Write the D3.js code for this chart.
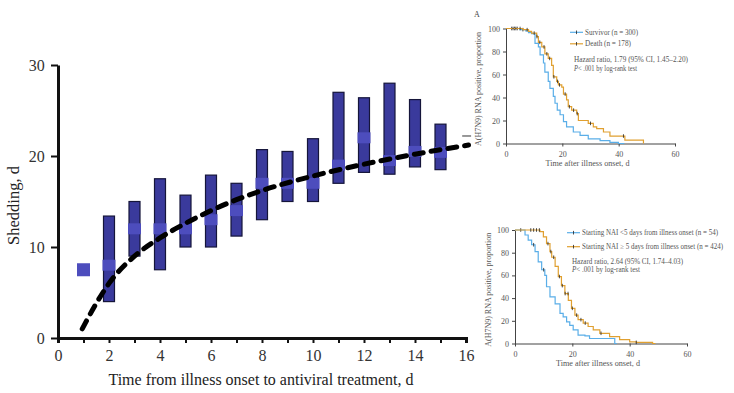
<!DOCTYPE html>
<html>
<head>
<meta charset="utf-8">
<script src="https://cdn.jsdelivr.net/npm/d3@7/dist/d3.min.js"></script>
<style>
  html, body { margin: 0; padding: 0; background: #fff; }
  svg { display: block; font-family: "Liberation Serif", "DejaVu Serif", serif; }
</style>
</head>
<body>
<svg id="chart" width="734" height="393"></svg>
<script>
// main panel: shedding duration by day of antiviral start
const days = [1, 2, 3, 4, 5, 6, 7, 8, 9, 10, 11, 12, 13, 14, 15];
const medians = [7.5, 8, 12, 12, 12, 13, 14, 17, 17, 17, 19, 22, 19.5, 20.5, 20.4];
const lows = [null, 4, 9, 7.5, 10, 10, 11.2, 13, 15, 15, 17, 18.2, 18, 18.8, 18.5];
const highs = [null, 13.4, 15, 17.5, 15.7, 17.9, 17, 20.7, 20.5, 21.9, 27, 26.4, 28, 26.2, 23.5];
const fitCurve = [[0.95, 1.0], [1.5, 3.8], [2, 6.0], [3, 9.0], [4, 11.0], [5, 12.6], [6, 14.0],
  [7, 15.2], [8, 16.2], [10, 17.8], [12, 19.1], [14, 20.2], [16.1, 21.2]];
const xTicksMain = [0, 2, 4, 6, 8, 10, 12, 14, 16];
const yTicksMain = [0, 10, 20, 30];

// inset A: survivors vs deaths
const survivorKM = [[0, 100], [5, 99], [7, 98], [8, 96.5], [9.1, 95.6], [10.3, 87], [11.5, 84], [12.1, 77],
  [13.3, 70], [13.8, 62], [15, 54], [15.6, 48], [16.8, 41], [17.4, 35], [18.2, 29], [19.2, 25], [20.4, 19],
  [21.5, 14.5], [23.9, 10], [26.3, 7], [29.2, 4], [33.4, 2.5], [36.9, 1], [39.9, 0], [42, 0]];
const deathKM = [[0, 100], [6, 99], [8, 97.5], [9.1, 96], [10.9, 93], [11.5, 88], [12.7, 84], [13.8, 78],
  [15, 74], [16.2, 68], [16.8, 58], [18, 54], [18.6, 51], [19.8, 49], [20.4, 43], [21.5, 38], [22.1, 32],
  [23.3, 29], [25.1, 26], [25.7, 20], [29.2, 17.5], [31, 14.5], [32.2, 13], [34.6, 10], [36.9, 6.5],
  [42.2, 3], [48.8, 0]];
const survivorCensor = [2, 3, 4, 6];
const deathCensor = [2.5, 3.5, 5, 7.5, 10, 11, 12, 13.5, 14.5, 15.5, 17, 18.3, 19, 21, 22.5, 24, 25.3, 30, 41.7];

// inset B: early vs late NAI start
const earlyKM = [[0, 100], [1.7, 100], [3.5, 95.6], [4.6, 91], [5.8, 87], [7, 81], [8.1, 72], [9.3, 65],
  [10.4, 60], [11, 50], [12.2, 41], [14, 35], [15.7, 26.5], [16.8, 23.5], [18, 19], [19.1, 16], [20.3, 12],
  [22, 7.4], [24.4, 6.8], [26, 4.4], [34.8, 0], [35.5, 0]];
const lateKM = [[0, 100], [4.6, 100], [8.7, 98.5], [9.9, 94], [11, 88], [12.2, 81], [12.8, 76], [14, 68],
  [15.1, 59], [16.2, 51], [17.4, 44], [18.6, 38], [19.7, 31], [20.9, 25], [22, 21], [23.8, 18], [25.5, 15],
  [27.3, 12], [29.6, 9], [33, 6], [36.5, 3.5], [40, 1.5], [42.3, 1], [48, 0], [49, 0]];
const earlyCensor = [2, 6.5, 10];
const lateCensor = [5.5, 6.5, 7.5, 8.5, 11.5, 12.5, 13.5, 15.5, 16.5, 17.5, 18.5, 20, 21.5, 23, 24.5, 30, 42.3];

const kmTicksX = [0, 20, 40, 60];
const kmTicksY = [0, 20, 40, 60, 80, 100];

const svg = d3.select("#chart");

// ---------- main panel ----------
const x = d3.scaleLinear().domain([0, 16]).range([58, 466]);
const y = d3.scaleLinear().domain([0, 30]).range([338, 65]);

const gx = svg.append("g").attr("transform", `translate(0,${y(0)})`)
  .call(d3.axisBottom(x).tickValues(d3.range(0, 17)).tickSize(5).tickFormat(d => xTicksMain.includes(d) ? d : ""));
const gy = svg.append("g").attr("transform", `translate(${x(0)},0)`)
  .call(d3.axisLeft(y).tickValues(yTicksMain).tickSize(7).tickSizeOuter(0));

[gx, gy].forEach(g => {
  g.select(".domain").attr("stroke", "#111").attr("stroke-width", 3);
  g.selectAll(".tick line").attr("stroke", "#111").attr("stroke-width", 2);
  g.selectAll("text").attr("fill", "#333").style("font-size", "16px").style("font-family", "Liberation Serif, serif");
});
gx.selectAll("text").attr("dy", "0.95em");
gy.selectAll("text").attr("dx", "-0.2em");

svg.append("text").attr("x", 261).attr("y", 385).attr("text-anchor", "middle")
  .attr("fill", "#222").style("font-size", "16px")
  .text("Time from illness onset to antiviral treatment, d");
svg.append("text").attr("transform", `translate(19,${(y(0) + y(30)) / 2 + 4}) rotate(-90)`)
  .attr("text-anchor", "middle").attr("fill", "#222").style("font-size", "16.5px")
  .text("Shedding, d");

const rows = days.map((d, i) => ({ day: d, med: medians[i], lo: lows[i], hi: highs[i] }));

// range bars
svg.append("g").selectAll("rect")
  .data(rows.filter(r => r.lo != null))
  .join("rect")
  .attr("x", r => x(r.day) - 5.5)
  .attr("width", 11)
  .attr("y", r => y(r.hi))
  .attr("height", r => y(r.lo) - y(r.hi))
  .attr("fill", "#3a3a9c")
  .attr("stroke", "#15153a")
  .attr("stroke-width", 1.2);

// median markers
svg.append("g").selectAll("rect")
  .data(rows)
  .join("rect")
  .attr("x", r => x(r.day) - 6.5)
  .attr("width", 13)
  .attr("y", r => y(r.med) - (r.lo == null ? 6.5 : 5.5))
  .attr("height", r => r.lo == null ? 13 : 11)
  .attr("fill", "#4d4dbd");

// dashed fit line
svg.append("path")
  .datum(fitCurve)
  .attr("d", d3.line().x(d => x(d[0])).y(d => y(d[1])).curve(d3.curveMonotoneX))
  .attr("fill", "none")
  .attr("stroke", "#000")
  .attr("stroke-width", 5)
  .attr("stroke-linecap", "round")
  .attr("stroke-dasharray", "9 8");

// stray grey mark near right edge
svg.append("line")
  .attr("x1", x(15.85)).attr("x2", x(16.2)).attr("y1", y(22.2)).attr("y2", y(22.2))
  .attr("stroke", "#777").attr("stroke-width", 1.5);

// ---------- KM insets ----------
// the inset text in the source is squeezed vertically, so widths are pinned with textLength
function wideText(g, x0, y0, str, len, size) {
  return g.append("text").attr("x", x0).attr("y", y0)
    .attr("fill", "#555").style("font-size", size + "px")
    .attr("textLength", len).attr("lengthAdjust", "spacingAndGlyphs")
    .text(str);
}

function kmPanel(opts) {
  const kx = d3.scaleLinear().domain([0, 60]).range([opts.left, opts.right]);
  const ky = d3.scaleLinear().domain([0, 100]).range([opts.bottom, opts.top]);
  const g = svg.append("g");

  const ax = g.append("g").attr("transform", `translate(0,${opts.bottom})`)
    .call(d3.axisBottom(kx).tickValues(kmTicksX).tickSize(3).tickSizeOuter(0));
  const ay = g.append("g").attr("transform", `translate(${opts.left},0)`)
    .call(d3.axisLeft(ky).tickValues(kmTicksY).tickSize(3).tickSizeOuter(0));
  [ax, ay].forEach(a => {
    a.select(".domain").attr("stroke", "#444").attr("stroke-width", 1);
    a.selectAll(".tick line").attr("stroke", "#444");
    a.selectAll("text").attr("fill", "#555").style("font-size", "8px").style("font-family", "Liberation Serif, serif");
  });
  ax.selectAll("text").attr("dy", "0.9em");

  const mid = (opts.left + opts.right) / 2 - 3;
  wideText(g, mid - 42, opts.bottom + 22, "Time after illness onset, d", 84, 7.8);
  g.append("text")
    .attr("transform", `translate(${opts.left - opts.yLabelOff},${(opts.top + opts.bottom) / 2 + 60}) rotate(-90)`)
    .attr("fill", "#555").style("font-size", "7.8px")
    .attr("textLength", 114).attr("lengthAdjust", "spacingAndGlyphs")
    .text("A(H7N9) RNA positive, proportion");

  const line = d3.line().x(d => kx(d[0])).y(d => ky(d[1])).curve(d3.curveStepAfter);
  const stepAt = (km, t) => {
    let v = km[0][1];
    km.forEach(p => { if (p[0] <= t) v = p[1]; });
    return v;
  };

  opts.series.forEach(s => {
    g.append("path").datum(s.km).attr("d", line)
      .attr("fill", "none").attr("stroke", s.color).attr("stroke-width", 1.2);
    g.append("g").selectAll("line").data(s.censor).join("line")
      .attr("x1", t => kx(t)).attr("x2", t => kx(t))
      .attr("y1", t => ky(stepAt(s.km, t)) - 1.8).attr("y2", t => ky(stepAt(s.km, t)) + 1.8)
      .attr("stroke", "#222").attr("stroke-width", 0.8);
  });

  // legend
  opts.series.forEach((s, i) => {
    const ly = opts.legendY + i * opts.legendGap;
    g.append("line").attr("x1", opts.legendX).attr("x2", opts.legendX + 13)
      .attr("y1", ly).attr("y2", ly).attr("stroke", s.color).attr("stroke-width", 1.2);
    g.append("line").attr("x1", opts.legendX + 6.5).attr("x2", opts.legendX + 6.5)
      .attr("y1", ly - 1.8).attr("y2", ly + 1.8).attr("stroke", "#222").attr("stroke-width", 0.8);
    wideText(g, opts.legendX + 15, ly + 2.5, s.label, s.len, 7.5);
  });
  wideText(g, opts.noteX, opts.noteY, opts.hr, opts.hrLen, 7.5);
  const p = g.append("text").attr("x", opts.noteX).attr("y", opts.noteY + 8.5)
    .attr("fill", "#555").style("font-size", "7.5px")
    .attr("textLength", opts.pLen).attr("lengthAdjust", "spacingAndGlyphs");
  p.append("tspan").style("font-style", "italic").text("P");
  p.append("tspan").text("< .001 by log-rank test");
}

svg.append("text").attr("x", 474).attr("y", 17).attr("fill", "#444")
  .style("font-size", "8px").text("A");

kmPanel({
  left: 506, right: 675, top: 28.5, bottom: 143.5, yLabelOff: 25,
  legendX: 570, legendY: 32.3, legendGap: 11.5, noteX: 574, noteY: 62,
  hr: "Hazard ratio, 1.79 (95% CI, 1.45–2.20)", hrLen: 114, pLen: 63,
  series: [
    { km: survivorKM, censor: survivorCensor, color: "#5aaee8", label: "Survivor (n = 300)", len: 53 },
    { km: deathKM, censor: deathCensor, color: "#e0a030", label: "Death (n = 178)", len: 46 }
  ]
});

kmPanel({
  left: 515, right: 687, top: 230, bottom: 343.5, yLabelOff: 24,
  legendX: 567, legendY: 232.7, legendGap: 14, noteX: 572, noteY: 263.5,
  hr: "Hazard ratio, 2.64 (95% CI, 1.74–4.03)", hrLen: 111, pLen: 68,
  series: [
    { km: earlyKM, censor: earlyCensor, color: "#5aaee8", label: "Starting NAI <5 days from illness onset (n = 54)", len: 136 },
    { km: lateKM, censor: lateCensor, color: "#e0a030", label: "Starting NAI ≥ 5 days from illness onset (n = 424)", len: 141 }
  ]
});
</script>
</body>
</html>
